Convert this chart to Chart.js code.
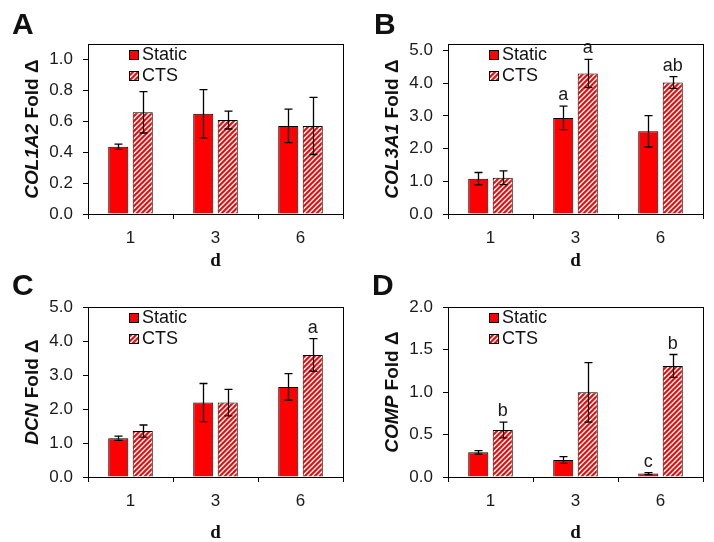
<!DOCTYPE html>
<html>
<head>
<meta charset="utf-8">
<script src="https://cdn.jsdelivr.net/npm/chart.js@4"></script>
<style>
  body { margin: 0; background: #fff; }
  #wrap { position: relative; width: 714px; height: 542px; }
  canvas { position: absolute; }
</style>
</head>
<body>
<div id="wrap">
  <canvas id="cA" width="357" height="271" style="left:0;top:0;width:357px;height:271px"></canvas>
  <canvas id="cB" width="357" height="271" style="left:357px;top:0;width:357px;height:271px"></canvas>
  <canvas id="cC" width="357" height="271" style="left:0;top:271px;width:357px;height:271px"></canvas>
  <canvas id="cD" width="357" height="271" style="left:357px;top:271px;width:357px;height:271px"></canvas>
</div>
<script>
var days = ['1', '3', '6'];
var seriesNames = ['Static', 'CTS'];

// A - COL1A2
var col1a2Static = [0.435, 0.649, 0.570];
var col1a2StaticErr = [0.017, 0.156, 0.108];
var col1a2Cts = [0.658, 0.608, 0.570];
var col1a2CtsErr = [0.134, 0.058, 0.185];
var col1a2StaticSig = ['', '', ''];
var col1a2CtsSig = ['', '', ''];
var col1a2Axis = [0, 1.1, 0.2];   // min, max, tick step

// B - COL3A1
var col3a1Static = [1.08, 2.94, 2.53];
var col3a1StaticErr = [0.19, 0.36, 0.48];
var col3a1Cts = [1.11, 4.30, 4.02];
var col3a1CtsErr = [0.21, 0.43, 0.18];
var col3a1StaticSig = ['', 'a', ''];
var col3a1CtsSig = ['', 'a', 'ab'];
var col3a1Axis = [0, 5.2, 1];

// C - DCN
var dcnStatic = [1.14, 2.19, 2.65];
var dcnStaticErr = [0.06, 0.56, 0.39];
var dcnCts = [1.35, 2.19, 3.59];
var dcnCtsErr = [0.18, 0.39, 0.48];
var dcnStaticSig = ['', '', ''];
var dcnCtsSig = ['', '', 'a'];
var dcnAxis = [0, 5, 1];

// D - COMP
var compStatic = [0.29, 0.20, 0.04];
var compStaticErr = [0.02, 0.04, 0.012];
var compCts = [0.553, 0.996, 1.306];
var compCtsErr = [0.092, 0.35, 0.135];
var compStaticSig = ['', '', 'c'];
var compCtsSig = ['b', '', 'b'];
var compAxis = [0, 2, 0.5];

var RED = '#ff0000';

function makeHatch() {
    var p = document.createElement('canvas');
    p.width = 5; p.height = 5;
    var c = p.getContext('2d');
    c.fillStyle = '#fff';
    c.fillRect(0, 0, 5, 5);
    c.strokeStyle = RED;
    c.lineWidth = 2;
    c.beginPath();
    c.moveTo(-1, 6); c.lineTo(6, -1);
    c.moveTo(-3.5, 3.5); c.lineTo(3.5, -3.5);
    c.moveTo(1.5, 8.5); c.lineTo(8.5, 1.5);
    c.stroke();
    return c.createPattern(p, 'repeat');
}

var panels = [
    { id: 'cA', letter: 'A', gene: 'COL1A2', axis: col1a2Axis,
      s: col1a2Static, se: col1a2StaticErr, ss: col1a2StaticSig,
      c: col1a2Cts, ce: col1a2CtsErr, cs: col1a2CtsSig,
      area: { left: 88, top: 44, right: 343, bottom: 214 }, lx: 12, ly: 34, xt: 47 },
    { id: 'cB', letter: 'B', gene: 'COL3A1', axis: col3a1Axis,
      s: col3a1Static, se: col3a1StaticErr, ss: col3a1StaticSig,
      c: col3a1Cts, ce: col3a1CtsErr, cs: col3a1CtsSig,
      area: { left: 91, top: 44, right: 346, bottom: 214 }, lx: 17, ly: 34, xt: 47 },
    { id: 'cC', letter: 'C', gene: 'DCN', axis: dcnAxis,
      s: dcnStatic, se: dcnStaticErr, ss: dcnStaticSig,
      c: dcnCts, ce: dcnCtsErr, cs: dcnCtsSig,
      area: { left: 88, top: 36, right: 343, bottom: 206 }, lx: 12, ly: 24, xt: 56 },
    { id: 'cD', letter: 'D', gene: 'COMP', axis: compAxis,
      s: compStatic, se: compStaticErr, ss: compStaticSig,
      c: compCts, ce: compCtsErr, cs: compCtsSig,
      area: { left: 91, top: 36, right: 346, bottom: 206 }, lx: 15, ly: 24, xt: 56 }
];

function figurePlugin(panel) {
    return {
        id: 'figure' + panel.letter,
        afterDatasetsDraw: function (chart) {
            var ctx = chart.ctx, area = chart.chartArea, y = chart.scales.y;
            ctx.save();

            // error bars and significance letters
            chart.data.datasets.forEach(function (ds, di) {
                var meta = chart.getDatasetMeta(di);
                meta.data.forEach(function (bar, i) {
                    var v = ds.data[i], e = ds.errors[i];
                    var top = y.getPixelForValue(v + e), bot = y.getPixelForValue(v - e);
                    var bx = Math.round(bar.x) + 0.5;
                    ctx.strokeStyle = '#000';
                    ctx.lineWidth = 1.3;
                    ctx.beginPath();
                    ctx.moveTo(bx, top); ctx.lineTo(bx, bot);
                    ctx.moveTo(bx - 4, top); ctx.lineTo(bx + 4, top);
                    ctx.moveTo(bx - 4, bot); ctx.lineTo(bx + 4, bot);
                    ctx.stroke();
                    if (ds.sig[i]) {
                        ctx.fillStyle = '#1a1a1a';
                        ctx.font = '18px "Liberation Sans"';
                        ctx.textAlign = 'center';
                        ctx.textBaseline = 'alphabetic';
                        ctx.fillText(ds.sig[i], bar.x, top - 6);
                    }
                });
            });

            // plot frame
            ctx.strokeStyle = '#000';
            ctx.lineWidth = 1;
            ctx.strokeRect(Math.round(area.left) + 0.5, Math.round(area.top) + 0.5,
                Math.round(area.right - area.left), Math.round(area.bottom - area.top));

            // legend inside the plot
            chart.data.datasets.forEach(function (ds, di) {
                var cy = area.top + (di === 0 ? 11 : 32);
                var sx = Math.round(area.left + 41);
                var sy = Math.round(cy - 5);
                ctx.fillStyle = ds.backgroundColor;
                ctx.fillRect(sx, sy, 10, 10);
                ctx.strokeStyle = '#000';
                ctx.strokeRect(sx + 0.5, sy + 0.5, 9, 9);
                ctx.fillStyle = '#111';
                ctx.font = '18px "Liberation Sans"';
                ctx.textAlign = 'left';
                ctx.textBaseline = 'middle';
                ctx.fillText(ds.label, area.left + 54, cy);
            });

            // y title: italic gene name + Fold Δ
            var segs = [{ t: panel.gene, f: 'italic bold 19px "Liberation Sans"' },
                        { t: ' Fold \u0394', f: 'bold 19px "Liberation Sans"' }];
            ctx.save();
            ctx.translate(area.left - 55, (area.top + area.bottom) / 2);
            ctx.rotate(-Math.PI / 2);
            var total = 0;
            segs.forEach(function (s) { ctx.font = s.f; s.w = ctx.measureText(s.t).width; total += s.w; });
            var px = -total / 2;
            ctx.fillStyle = '#111';
            ctx.textAlign = 'left';
            ctx.textBaseline = 'middle';
            segs.forEach(function (s) { ctx.font = s.f; ctx.fillText(s.t, px, 0); px += s.w; });
            ctx.restore();

            // x title
            ctx.fillStyle = '#111';
            ctx.font = 'bold 19px "Liberation Serif"';
            ctx.textAlign = 'center';
            ctx.textBaseline = 'middle';
            ctx.fillText('d', (area.left + area.right) / 2, area.bottom + panel.xt);

            // panel letter
            ctx.font = 'bold 30px "Liberation Sans"';
            ctx.textAlign = 'left';
            ctx.textBaseline = 'alphabetic';
            ctx.fillText(panel.letter, panel.lx, panel.ly);

            ctx.restore();
        }
    };
}

var hatch = makeHatch();

panels.forEach(function (panel) {
    var cv = document.getElementById(panel.id);
    var W = cv.width, H = cv.height, a = panel.area;
    var tickFont = { family: 'Liberation Sans', size: 17 };
    var gridOpts = { display: true, drawOnChartArea: false, drawTicks: true, tickLength: 5, color: '#000', lineWidth: 1 };

    new Chart(cv.getContext('2d'), {
        type: 'bar',
        data: {
            labels: days,
            datasets: [{
                label: seriesNames[0],
                data: panel.s,
                errors: panel.se,
                sig: panel.ss,
                backgroundColor: RED,
                borderColor: '#000',
                borderWidth: 1,
                categoryPercentage: 0.576,
                barPercentage: 0.82
            }, {
                label: seriesNames[1],
                data: panel.c,
                errors: panel.ce,
                sig: panel.cs,
                backgroundColor: hatch,
                borderColor: '#000',
                borderWidth: 1,
                categoryPercentage: 0.576,
                barPercentage: 0.82
            }]
        },
        options: {
            responsive: false,
            animation: false,
            devicePixelRatio: 1,
            layout: { padding: { left: 0, top: a.top, right: W - a.right, bottom: 0 } },
            plugins: { legend: { display: false }, tooltip: { enabled: false } },
            scales: {
                x: {
                    grid: Object.assign({ offset: true }, gridOpts),
                    border: { display: false },
                    ticks: { color: '#1a1a1a', font: tickFont, padding: 9 },
                    afterFit: function (s) { s.height = H - a.bottom; }
                },
                y: {
                    min: panel.axis[0],
                    max: panel.axis[1],
                    grid: gridOpts,
                    border: { display: false },
                    ticks: {
                        stepSize: panel.axis[2],
                        includeBounds: false,
                        color: '#1a1a1a',
                        font: tickFont,
                        padding: 10,
                        callback: function (v) { return Number(v).toFixed(1); }
                    },
                    afterFit: function (s) { s.width = a.left; }
                }
            }
        },
        plugins: [figurePlugin(panel)]
    });
});
</script>
</body>
</html>
